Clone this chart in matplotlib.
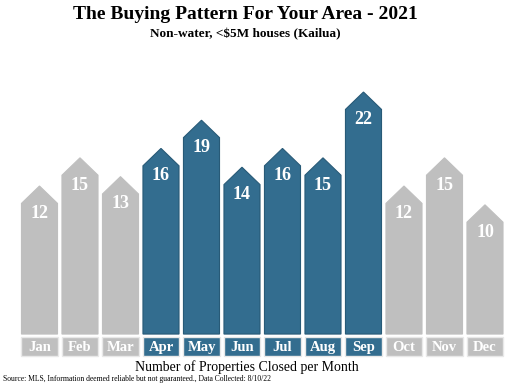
import matplotlib
matplotlib.use("Agg")
import matplotlib.pyplot as plt
from matplotlib.patches import Polygon, Rectangle

months = ['Jan', 'Feb', 'Mar', 'Apr', 'May', 'Jun', 'Jul', 'Aug', 'Sep', 'Oct', 'Nov', 'Dec']
closed = [12, 15, 13, 16, 19, 14, 16, 15, 22, 12, 15, 10]
highlight = [False, False, False, True, True, True, True, True, True, False, False, False]

gray = '#bfbfbf'
blue = '#336d8f'
serif = ['Liberation Serif', 'DejaVu Serif']

fig = plt.figure(figsize=(5.12, 3.85), dpi=100)
ax = fig.add_axes([0, 0, 1, 1])
ax.set_xlim(-0.975, 11.667)
ax.set_ylim(-9.17, 31.79)
ax.axis('off')

base = -3.75
roof = 1.85
hw = 0.445
for i, (m, v, hl) in enumerate(zip(months, closed, highlight)):
    c = blue if hl else gray
    ec = '#285a77' if hl else gray
    pts = [(i - hw, base), (i - hw, v - roof), (i, v), (i + hw, v - roof), (i + hw, base)]
    ax.add_patch(Polygon(pts, closed=True, fc=c, ec=ec, lw=0.8))
    ax.text(i, v - 2.9, str(v), ha='center', va='center', color='white',
            fontsize=13, fontweight='bold', family=serif)
    ax.add_patch(Rectangle((i - hw, -6.1), 2 * hw, 2.0, fc=c, ec='#e8e8e8', lw=1.0))
    ax.text(i, -5.15, m, ha='center', va='center', color='white',
            fontsize=10.5, fontweight='bold', family=serif)

fig.text(0.48, 0.962, 'The Buying Pattern For Your Area - 2021', ha='center', va='center',
         fontsize=14, fontweight='bold', family=serif)
fig.text(0.48, 0.912, 'Non-water, <$5M houses (Kailua)', ha='center', va='center',
         fontsize=9.5, fontweight='bold', family=serif)
fig.text(0.482, 0.047, 'Number of Properties Closed per Month', ha='center', va='center',
         fontsize=10, family=serif)
fig.text(0.006, 0.016, 'Source: MLS, Information deemed reliable but not guaranteed., Data Collected: 8/10/22',
         ha='left', va='center', fontsize=5.5, family=serif)

fig.savefig('out.png', dpi=100)
